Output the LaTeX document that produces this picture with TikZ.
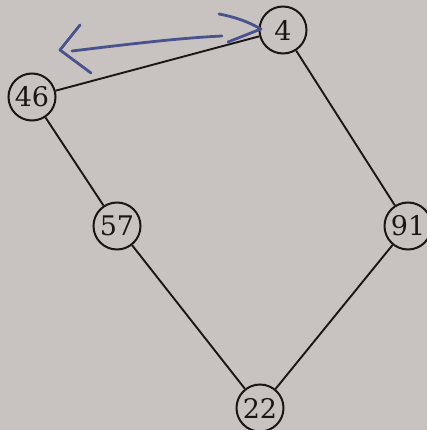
\documentclass[tikz,border=0pt]{standalone}
\usepackage{fontspec}
\newfontfamily\numfont{DejaVu Serif}
\definecolor{paper}{RGB}{200,195,193}
\definecolor{pen}{RGB}{72,82,140}
\definecolor{ink}{RGB}{25,22,22}
\begin{document}
\begin{tikzpicture}[x=1pt,y=-1pt,
  vtx/.style={circle,draw=ink,line width=2pt,minimum size=47pt,inner sep=0pt,
    font=\numfont\fontsize{27}{30}\selectfont,text=ink},
  edge/.style={draw=ink,line width=1.9pt},
  penline/.style={draw=pen,line width=2.8pt,line cap=round,line join=round}]
\fill[paper] (0,0) rectangle (427,430);
\useasboundingbox (0,0) rectangle (427,430);
\node[vtx] (n4) at (283,30) {4};
\node[vtx] (n46) at (32,97) {46};
\node[vtx] (n57) at (117,226) {57};
\node[vtx] (n91) at (408,226) {91};
\node[vtx] (n22) at (260,408) {22};
\draw[edge] (n4) -- (n46);
\draw[edge] (n46) -- (n57);
\draw[edge] (n57) -- (n22);
\draw[edge] (n22) -- (n91);
\draw[edge] (n91) -- (n4);
% hand-drawn pen arrow
\coordinate (pl) at (72,51);
\coordinate (pr) at (222,36);
\draw[penline] (pl) .. controls (130,44) and (180,38) .. (pr);
\draw[penline] (80,25) -- (60,50) -- (91,73);
\draw[penline] (219,14) .. controls (240,18) and (252,24) .. (261,29) -- (228,42);
\end{tikzpicture}
\end{document}
